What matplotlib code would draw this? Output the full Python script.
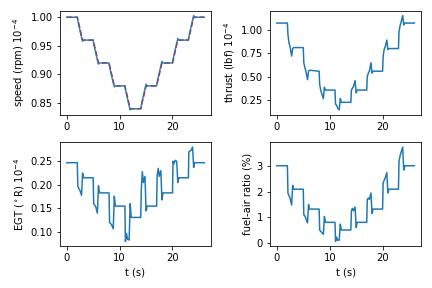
import matplotlib
matplotlib.use("Agg")
import matplotlib.pyplot as plt

# time grid: hold, then a 1 s transition after each step command
t = [0,
     2.0, 2.1, 2.3, 2.5, 2.8, 3.0, 3.2,
     5.0, 5.1, 5.3, 5.5, 5.8, 6.0, 6.2,
     8.0, 8.1, 8.3, 8.5, 8.8, 9.0, 9.2,
     11.0, 11.1, 11.3, 11.5, 11.8, 12.0, 12.2,
     14.0, 14.1, 14.3, 14.5, 14.8, 15.0, 15.2,
     17.0, 17.1, 17.3, 17.5, 17.8, 18.0, 18.2,
     20.0, 20.1, 20.3, 20.5, 20.8, 21.0, 21.2,
     23.0, 23.1, 23.3, 23.5, 23.8, 24.0, 24.2,
     26]

# speed setpoint (red dashed)
t_ref = [0, 2, 3, 5, 6, 8, 9, 11, 12, 14, 15, 17, 18, 20, 21, 23, 24, 26]
speed_ref = [1.0, 1.0, 0.96, 0.96, 0.92, 0.92, 0.88, 0.88, 0.84, 0.84,
             0.88, 0.88, 0.92, 0.92, 0.96, 0.96, 1.0, 1.0]

speed = [1.0,
         1.0, 0.994, 0.985, 0.977, 0.965, 0.958, 0.960,
         0.960, 0.954, 0.945, 0.937, 0.925, 0.918, 0.920,
         0.920, 0.914, 0.905, 0.897, 0.885, 0.878, 0.880,
         0.880, 0.874, 0.865, 0.857, 0.845, 0.838, 0.840,
         0.840, 0.846, 0.855, 0.863, 0.875, 0.883, 0.880,
         0.880, 0.886, 0.895, 0.903, 0.915, 0.923, 0.920,
         0.920, 0.926, 0.935, 0.943, 0.955, 0.963, 0.960,
         0.960, 0.966, 0.975, 0.983, 0.995, 1.003, 1.000,
         1.0]

thrust = [1.07,
          1.07, 0.95, 0.86, 0.82, 0.72, 0.80, 0.81,
          0.81, 0.65, 0.60, 0.56, 0.47, 0.56, 0.57,
          0.56, 0.42, 0.36, 0.32, 0.27, 0.39, 0.36,
          0.36, 0.21, 0.20, 0.17, 0.15, 0.27, 0.23,
          0.23, 0.36, 0.38, 0.40, 0.46, 0.33, 0.36,
          0.36, 0.50, 0.54, 0.56, 0.65, 0.54, 0.56,
          0.56, 0.72, 0.79, 0.82, 0.89, 0.79, 0.80,
          0.80, 0.98, 1.04, 1.08, 1.15, 1.05, 1.07,
          1.07]

egt = [0.247,
       0.247, 0.197, 0.192, 0.188, 0.178, 0.225, 0.215,
       0.215, 0.160, 0.157, 0.153, 0.140, 0.198, 0.183,
       0.183, 0.120, 0.118, 0.115, 0.107, 0.176, 0.155,
       0.155, 0.080, 0.097, 0.085, 0.083, 0.160, 0.131,
       0.131, 0.190, 0.228, 0.205, 0.218, 0.145, 0.155,
       0.155, 0.220, 0.235, 0.218, 0.230, 0.168, 0.183,
       0.183, 0.250, 0.245, 0.252, 0.250, 0.205, 0.215,
       0.215, 0.270, 0.272, 0.273, 0.280, 0.237, 0.247,
       0.247]

far = [3.02,
       3.02, 1.95, 1.85, 1.75, 1.48, 2.25, 2.10,
       2.10, 1.10, 1.05, 0.95, 0.78, 1.50, 1.32,
       1.32, 0.50, 0.45, 0.40, 0.33, 1.03, 0.80,
       0.80, 0.05, 0.22, 0.10, 0.10, 0.73, 0.50,
       0.50, 1.25, 1.35, 1.25, 1.40, 0.60, 0.80,
       0.80, 1.70, 1.75, 1.70, 1.95, 1.15, 1.32,
       1.32, 2.35, 2.45, 2.55, 2.75, 1.95, 2.10,
       2.10, 3.20, 3.40, 3.55, 3.75, 2.85, 3.02,
       3.02]

fig, axes = plt.subplots(2, 2, figsize=(6, 4), dpi=72)

ax = axes[0, 0]
ax.plot(t_ref, speed_ref, "r--", lw=1.5)
ax.plot(t, speed, color="C0", lw=1.5, alpha=0.9)
ax.set_ylabel("speed (rpm) $10^{-4}$")

ax = axes[0, 1]
ax.plot(t, thrust, color="C0")
ax.set_ylabel("thrust (lbf) $10^{-4}$")

ax = axes[1, 0]
ax.plot(t, egt, color="C0")
ax.set_ylabel(r"EGT ($^\circ$R) $10^{-4}$")
ax.set_xlabel("t (s)")

ax = axes[1, 1]
ax.plot(t, far, color="C0")
ax.set_ylabel("fuel-air ratio (%)")
ax.set_xlabel("t (s)")

fig.tight_layout()
fig.savefig("out.png", dpi=72)
